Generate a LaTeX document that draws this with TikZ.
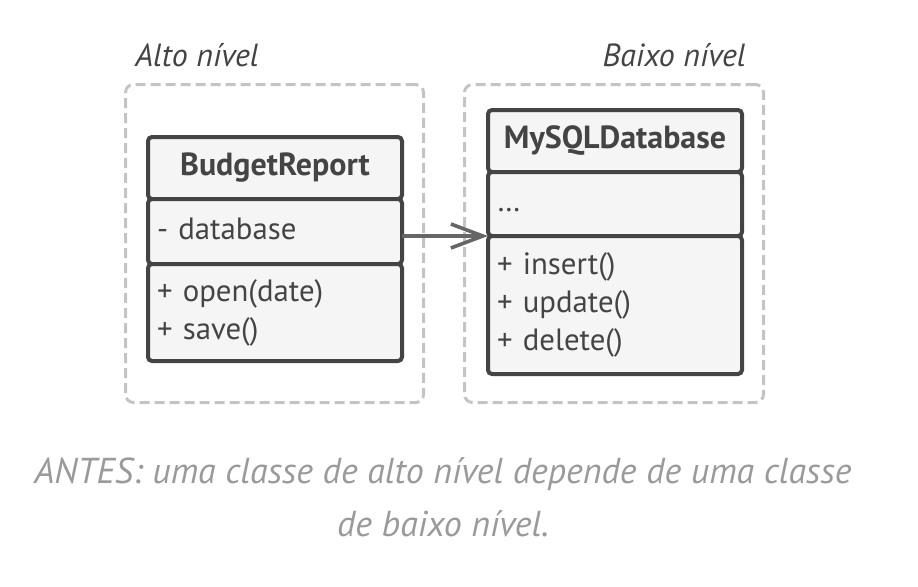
\documentclass[tikz,border=0pt]{standalone}
\usepackage{fontspec}
\setmainfont{PT Sans}
\usetikzlibrary{positioning,arrows.meta}
\definecolor{ink}{HTML}{444444}
\definecolor{boxfill}{HTML}{F5F5F5}
\definecolor{dashgray}{HTML}{C4C4C4}
\definecolor{arrowgray}{HTML}{666666}
\definecolor{captiongray}{HTML}{9A9A9A}
\tikzset{
  layer/.style={draw=dashgray, line width=1.5pt, dash pattern=on 5pt off 2.5pt, rounded corners=4pt},
  levellabel/.style={inner sep=0pt, text=ink, font=\fontsize{16}{18}\selectfont\itshape},
  compart/.style={draw=ink, fill=boxfill, line width=2pt, rounded corners=2pt, outer sep=0pt,
                  minimum width=127pt, text=ink, font=\fontsize{15.4}{19}\selectfont},
  classhead/.style={compart, minimum height=31pt, font=\fontsize{16}{18}\selectfont\bfseries},
  members/.style={compart, text width=118pt, inner xsep=4.5pt, align=left},
}
\begin{document}
\begin{tikzpicture}[x=0.5pt,y=-0.5pt, >={Straight Barb[length=16pt,width=12pt]}]
  \useasboundingbox (0,0) rectangle (918,586);
  % layers
  \node[layer, minimum width=149pt, minimum height=159pt] (hibox) at (274.5,243.5) {};
  \node[layer, minimum width=149.5pt, minimum height=159pt] (lobox) at (614,243.5) {};
  \node[levellabel, anchor=west] (hilabel) at (135,55) {Alto nível};
  \node[levellabel, anchor=east] (lolabel) at (746,55) {Baixo nível};

  % high level class
  \node[classhead, anchor=north] (brhead) at (275,137) {BudgetReport};
  \node[members, minimum height=32.5pt, below=0pt of brhead] (brattr) {\strut- database};
  \node[members, minimum height=48.5pt, below=0pt of brattr] (brops) {+ open(date)\\+ save()};

  % low level class
  \node[classhead, anchor=north] (dbhead) at (615,110) {MySQLDatabase};
  \node[members, minimum height=32pt, below=0pt of dbhead] (dbattr) {\strut\dots};
  \node[members, minimum height=69pt, below=0pt of dbattr] (dbops) {+ insert()\\+ update()\\+ delete()};

  % dependency
  \draw[->, arrowgray, line width=1.8pt] (dbattr.south west -| brattr.east) -- (dbattr.south west);

  \node[text=captiongray, align=center, font=\fontsize{18}{26.5}\selectfont\itshape] (caption) at (443,497)
    {ANTES: uma classe de alto nível depende de uma classe\\de baixo nível.};
\end{tikzpicture}
\end{document}
